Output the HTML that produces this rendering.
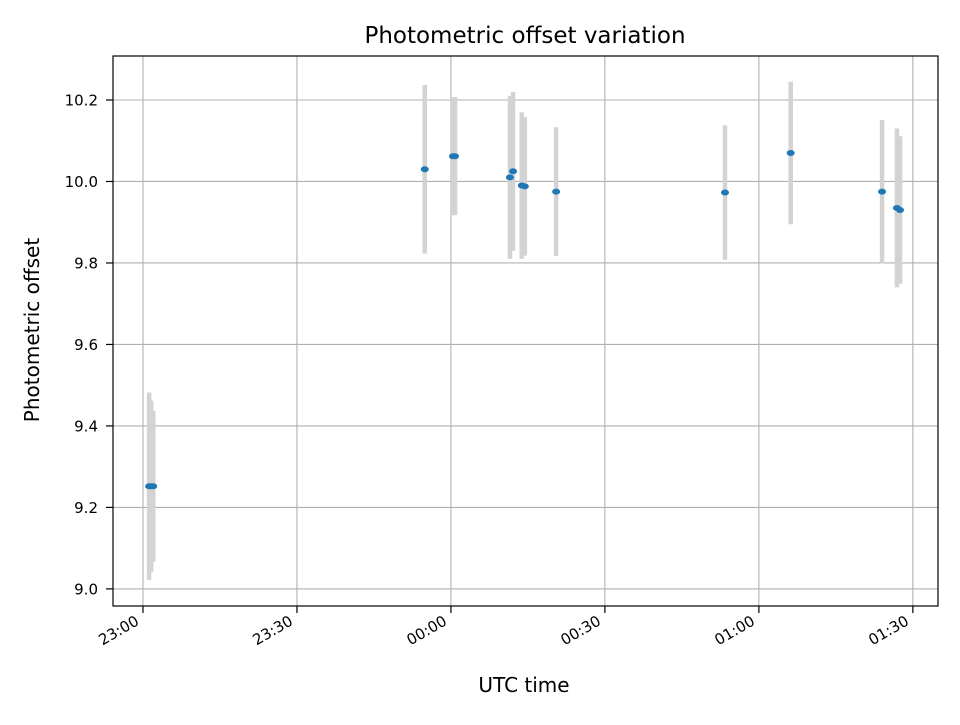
<!DOCTYPE html>
<html><head><meta charset="utf-8"><style>
body{margin:0;background:#fff}
svg text{font-family:"DejaVu Sans","Liberation Sans",sans-serif;fill:#000}
</style></head><body>
<svg id="chart" width="960" height="720" xmlns="http://www.w3.org/2000/svg">
<rect width="960" height="720" fill="#fff"/>
<g id="grid"></g>
<g id="errs"></g>
<g id="pts"></g>
<rect x="113" y="56" width="825" height="550" fill="none" stroke="#000" stroke-width="1.2"/>
<g id="axes"></g>
<text x="525" y="43" style="font-size:23px" text-anchor="middle">Photometric offset variation</text>
<text x="524" y="692" style="font-size:20px" text-anchor="middle">UTC time</text>
<text x="39" y="330" style="font-size:20px" text-anchor="middle" transform="rotate(-90 39 330)">Photometric offset</text>
</svg>
<script>
// minutes since 23:00 UTC
const times=[1.2,1.6,2.0,54.9,60.4,60.8,71.5,72.1,73.8,74.4,80.5,113.4,126.2,144.0,146.9,147.5];
const offsets=[9.252,9.252,9.252,10.03,10.062,10.062,10.01,10.025,9.99,9.988,9.975,9.973,10.07,9.975,9.935,9.93];
const errors=[0.23,0.21,0.185,0.207,0.145,0.145,0.2,0.195,0.18,0.17,0.158,0.165,0.175,0.176,0.195,0.181];
const xTicks=[0,30,60,90,120,150];
const xTickLabels=["23:00","23:30","00:00","00:30","01:00","01:30"];
const yTicks=[9.0,9.2,9.4,9.6,9.8,10.0,10.2];
const yTickLabels=["9.0","9.2","9.4","9.6","9.8","10.0","10.2"];
const L=113,R=938,T=56,B=606,xmin=-5.84,xmax=154.9,ymin=8.958,ymax=10.308;
const X=v=>L+(v-xmin)/(xmax-xmin)*(R-L);
const Y=v=>B-(v-ymin)/(ymax-ymin)*(B-T);
const NS="http://www.w3.org/2000/svg";
function mk(tag,attrs,parent){const e=document.createElementNS(NS,tag);for(const k in attrs)e.setAttribute(k,attrs[k]);parent.appendChild(e);return e;}
const grid=document.getElementById('grid'),axes=document.getElementById('axes'),errs=document.getElementById('errs'),pts=document.getElementById('pts');
xTicks.forEach((t,i)=>{const x=X(t);
 const g=mk('line',{x1:x,x2:x,y1:T,y2:B,stroke:'#b0b0b0','stroke-width':1.1},grid);
 
 const tk=mk('line',{x1:x,x2:x,y1:B,y2:B+7,stroke:'#000','stroke-width':1.2},axes);
 
 const tx=mk('text',{x:x-3,y:B+18,style:'font-size:15px','text-anchor':'end',transform:`rotate(-30 ${x-3} ${B+18})`},axes);
 tx.textContent=xTickLabels[i];
 
});
yTicks.forEach((t,i)=>{const y=Y(t);
 const g=mk('line',{x1:L,x2:R,y1:y,y2:y,stroke:'#b0b0b0','stroke-width':1.1},grid);
 
 const tk=mk('line',{x1:L-7,x2:L,y1:y,y2:y,stroke:'#000','stroke-width':1.2},axes);
 
 const tx=mk('text',{x:L-15,y:y+5.5,style:'font-size:15px','text-anchor':'end'},axes);
 tx.textContent=yTickLabels[i];
 
});
times.forEach((t,i)=>{const x=X(t);
 const e=mk('line',{x1:x,x2:x,y1:Y(offsets[i]-errors[i]),y2:Y(offsets[i]+errors[i]),stroke:'#d3d3d3','stroke-width':4.5},errs);
 
});
times.forEach((t,i)=>{
 const p=mk('ellipse',{cx:X(t),cy:Y(offsets[i]),rx:4,ry:3,fill:'#1f77b4'},pts);
 
});
</script>
</body></html>
